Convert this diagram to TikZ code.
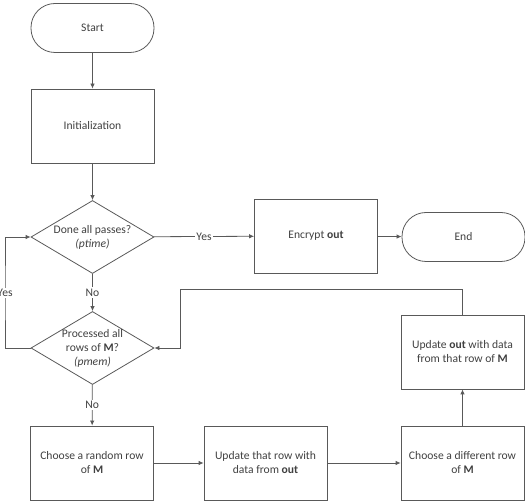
\documentclass[tikz,border=0pt]{standalone}
\usepackage{fontspec}
\setmainfont{Carlito}
\usepackage{tikz}
\usetikzlibrary{shapes,arrows,arrows.meta,positioning}

\definecolor{lineGray}{HTML}{595959}
\definecolor{textGray}{HTML}{404040}

\begin{document}
\begin{tikzpicture}[x=1pt, y=-1pt]
		\tikzstyle{Base}	= [draw=lineGray, line width=0.8pt, text=textGray, font=\fontsize{11.6}{14}\selectfont, align=center]
		\tikzstyle{Terminal}	= [Base, rectangle, rounded corners=24pt, minimum width=123pt, minimum height=49pt, inner sep=0pt]
		\tikzstyle{Process}	= [Base, rectangle, minimum width=123pt, minimum height=74pt, inner sep=0pt]
		\tikzstyle{Decision}	= [Base, diamond, minimum width=123pt, minimum height=73pt, inner sep=-16pt]
		\tikzstyle{Flow}	= [draw=lineGray, line width=0.8pt, -{Latex[length=5pt, width=4.5pt]}]
		\tikzstyle{Tag}		= [fill=white, text=textGray, font=\fontsize{11.6}{14}\selectfont, inner sep=1.5pt]

		\useasboundingbox (0,0) rectangle (525,502);

		\node (start) at (92.5, 28) [Terminal] {Start};
		\node (init) at (92.5, 126) [Process] {Initialization};
		\node (passes) at (92.5, 237) [Decision] {Done all passes?\\\textit{(ptime)}};
		\node (encrypt) at (316, 236) [Process] {Encrypt \textbf{out}};
		\node (stop) at (463.5, 237) [Terminal] {End};
		\node (rows) at (92.5, 348) [Decision] {Processed all\\rows of \textbf{M}?\\\textit{(pmem)}};
		\node (pick) at (92, 463) [Process] {Choose a random row\\of \textbf{M}};
		\node (update) at (265.5, 463) [Process] {Update that row with\\data from \textbf{out}};
		\node (other) at (462.5, 463) [Process] {Choose a different row\\of \textbf{M}};
		\node (refresh) at (462.5, 352) [Process] {Update \textbf{out} with data\\from that row of \textbf{M}};

		\coordinate (back) at (180, 289);
		\coordinate (loop) at (5, 293);

		\draw [Flow] (start) to (init);
		\draw [Flow] (init) to (passes);
		\draw [Flow] (passes) to node [Tag] {Yes} (encrypt);
		\draw [Flow] (encrypt) to (stop);
		\draw [Flow] (passes) to node [Tag] {No} (rows);
		\draw [Flow] (rows) to node [Tag] {No} (pick);
		\draw [Flow] (pick) to (update);
		\draw [Flow] (update) to (other);
		\draw [Flow] (other) to (refresh);
		\draw [Flow] (refresh.north) |- (back) |- (rows.east);
		\draw [Flow] (rows.west) -| (loop) |- (passes.west);
		\node at (loop) [Tag] {Yes};
	\end{tikzpicture}
\end{document}
